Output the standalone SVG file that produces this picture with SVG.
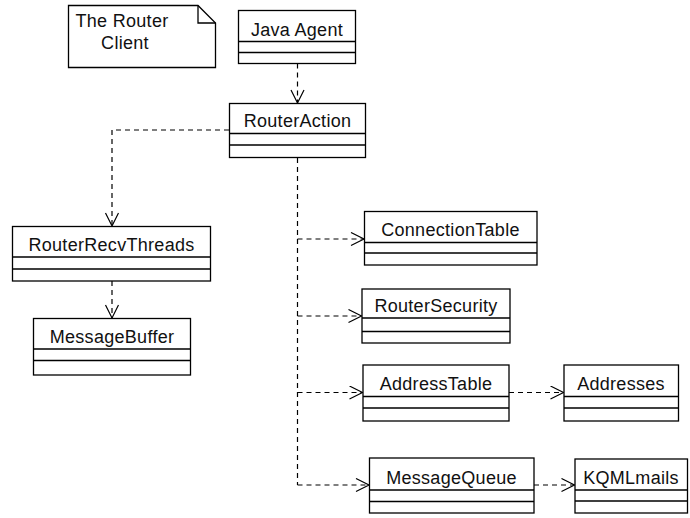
<svg xmlns="http://www.w3.org/2000/svg" width="690" height="518" viewBox="0 0 690 518">
<defs>
<style>
.box{fill:#fff;stroke:#000;stroke-width:1.3}
.sep{stroke:#000;stroke-width:1.3;fill:none}
.lbl{font-family:"Liberation Sans",Arial,sans-serif;font-size:18px;fill:#111;text-anchor:middle;letter-spacing:0.3px}
.dep{fill:none;stroke:#000;stroke-width:1.2;stroke-dasharray:5,4}
</style>
<marker id="open" markerUnits="userSpaceOnUse" markerWidth="16" markerHeight="16" viewBox="0 0 16 16" refX="14" refY="7" orient="auto">
<path d="M1,0.5 L14,7 L1,13.5" fill="none" stroke="#000" stroke-width="1.2"/>
</marker>
</defs>
<rect width="690" height="518" fill="#fff"/>
<g id="note">
<path class="box" d="M68.5,5.5 H198 L215.5,23 V67.5 H68.5 Z"/>
<path class="sep" d="M198,5.5 V23 H215.5"/>
<text class="lbl" x="122" y="27">The Router</text>
<text class="lbl" x="125" y="48.5">Client</text>
</g>
<g id="connectors">
<path class="dep" d="M297.5,63.5 V103" marker-end="url(#open)"/>
<path class="dep" d="M229,130 H112 V226" marker-end="url(#open)"/>
<path class="dep" d="M112,281 V318" marker-end="url(#open)"/>
<path class="dep" d="M297.5,158 V485"/>
<path class="dep" d="M297.5,239 H364" marker-end="url(#open)"/>
<path class="dep" d="M297.5,316 H361.5" marker-end="url(#open)"/>
<path class="dep" d="M297.5,392.5 H362.5" marker-end="url(#open)"/>
<path class="dep" d="M297.5,485 H369" marker-end="url(#open)"/>
<path class="dep" d="M509,392.5 H563.5" marker-end="url(#open)"/>
<path class="dep" d="M534,485 H574.5" marker-end="url(#open)"/>
</g>
<g id="JavaAgent">
<rect class="box" x="238.5" y="10.5" width="117" height="53"/>
<path class="sep" d="M238.5,41.5 H355.5 M238.5,52.5 H355.5"/>
<text class="lbl" x="297" y="35.5">Java Agent</text>
</g>
<g id="RouterAction">
<rect class="box" x="229.5" y="103.5" width="136" height="54"/>
<path class="sep" d="M229.5,133.5 H365.5 M229.5,145 H365.5"/>
<text class="lbl" x="297.5" y="127">RouterAction</text>
</g>
<g id="RouterRecvThreads">
<rect class="box" x="12.5" y="226.5" width="198" height="54.5"/>
<path class="sep" d="M12.5,257 H210.5 M12.5,269 H210.5"/>
<text class="lbl" x="111.5" y="250.5">RouterRecvThreads</text>
</g>
<g id="MessageBuffer">
<rect class="box" x="33.5" y="318.5" width="157" height="56.5"/>
<path class="sep" d="M33.5,349 H190.5 M33.5,360.5 H190.5"/>
<text class="lbl" x="112" y="342.5">MessageBuffer</text>
</g>
<g id="ConnectionTable">
<rect class="box" x="364.5" y="211.5" width="172.5" height="53.5"/>
<path class="sep" d="M364.5,242.5 H537 M364.5,253 H537"/>
<text class="lbl" x="450.5" y="235.5">ConnectionTable</text>
</g>
<g id="RouterSecurity">
<rect class="box" x="362" y="289" width="148" height="54"/>
<path class="sep" d="M362,318 H510 M362,331.5 H510"/>
<text class="lbl" x="436" y="311.5">RouterSecurity</text>
</g>
<g id="AddressTable">
<rect class="box" x="363" y="365" width="146" height="56"/>
<path class="sep" d="M363,396.5 H509 M363,408 H509"/>
<text class="lbl" x="436" y="390">AddressTable</text>
</g>
<g id="Addresses">
<rect class="box" x="564" y="365" width="114.5" height="56"/>
<path class="sep" d="M564,396.5 H678.5 M564,408 H678.5"/>
<text class="lbl" x="621" y="390">Addresses</text>
</g>
<g id="MessageQueue">
<rect class="box" x="369.5" y="458" width="164.5" height="55"/>
<path class="sep" d="M369.5,490 H534 M369.5,501.5 H534"/>
<text class="lbl" x="451.5" y="483.5">MessageQueue</text>
</g>
<g id="KQMLmails">
<rect class="box" x="575" y="459" width="112.5" height="54"/>
<path class="sep" d="M575,490 H687.5 M575,501 H687.5"/>
<text class="lbl" x="631" y="483.5">KQMLmails</text>
</g>
</svg>
